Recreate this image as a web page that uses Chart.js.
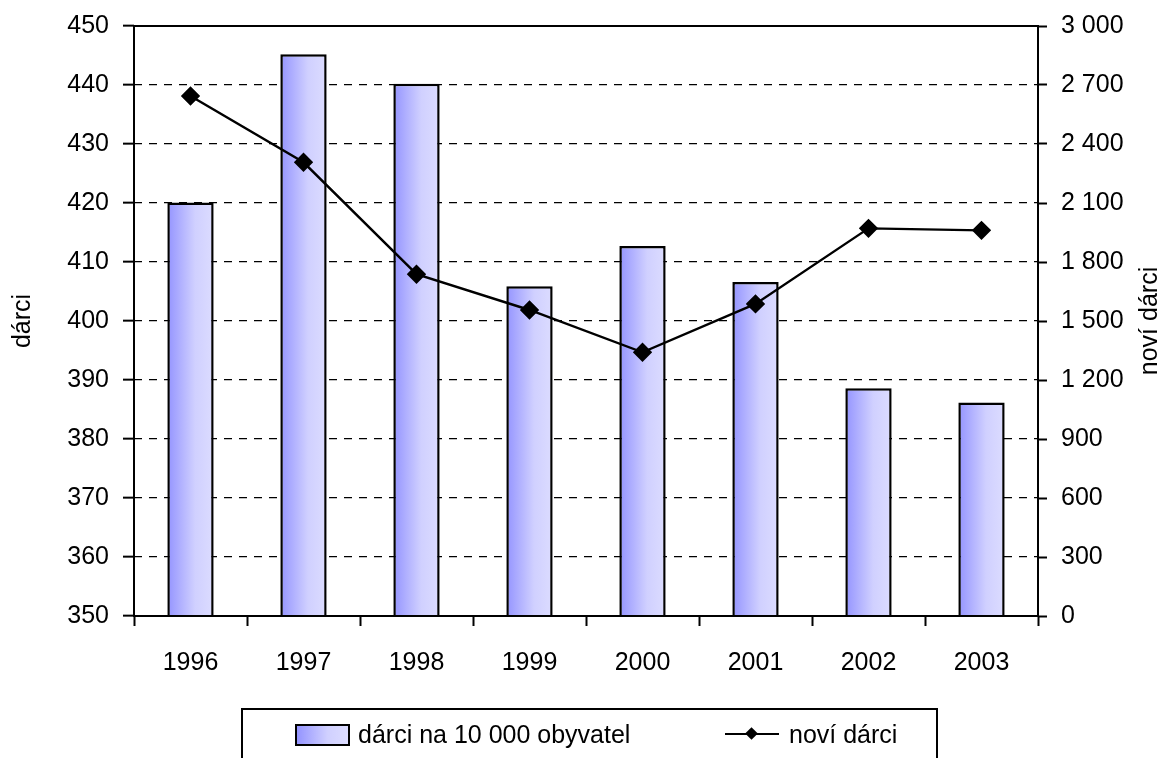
<!DOCTYPE html>
<html lang="cs">
<head>
  <meta charset="UTF-8">
  <title>Dárci krve 1996–2003</title>
  <script src="https://cdn.jsdelivr.net/npm/chart.js"></script>
  <style>
    body { margin: 0; background: #fff; }
    #wrap { position: relative; width: 1167px; height: 758px; overflow: hidden; }
    #legenda {
      position: absolute; left: 241px; top: 708px; width: 697px; height: 70px;
      border: 2px solid #000; box-sizing: border-box;
      font-family: 'Liberation Sans', Arial, sans-serif;
      font-size: 25px; color: #000;
    }
    #legenda span { position: absolute; top: 9px; line-height: 30px; white-space: nowrap; }
    .vzorek {
      position: absolute; left: 52px; top: 14px; width: 51px; height: 18px;
      border: 2px solid #000;
      background: linear-gradient(to right, #9494ff 0%, #d0d0ff 60%, #dcdcff 100%);
    }
    .cara { position: absolute; left: 482px; top: 23px; width: 54px; height: 2px; background: #000; }
    .kosoctverec { position: absolute; left: 504px; top: 19px; width: 9px; height: 9px; background: #000; transform: rotate(45deg); }
  </style>
</head>
<body>
  <div id="wrap">
    <canvas id="graf"></canvas>
    <div id="legenda">
      <div class="vzorek"></div>
      <span style="left:115px">dárci na 10 000 obyvatel</span>
      <div class="cara"></div>
      <div class="kosoctverec"></div>
      <span style="left:546px">noví dárci</span>
    </div>
  </div>

  <script>
    const roky = ['1996', '1997', '1998', '1999', '2000', '2001', '2002', '2003'];
    const darciNa10000 = [420.1, 445.2, 440.2, 405.9, 412.7, 406.6, 388.6, 386.2];
    const noviDarci = [2644, 2307, 1738, 1556, 1341, 1587, 1971, 1961];

    const pismo = "'Liberation Sans', Arial, sans-serif";

    function mezery(v) {
      return v.toString().replace(/\B(?=(\d{3})+(?!\d))/g, ' ');
    }

    // přechod na sloupcích zleva doprava
    function prechod(c) {
      const chart = c.chart;
      if (!chart.chartArea) return '#b0b0ff';
      const x = chart.scales.x.getPixelForValue(c.dataIndex);
      const w = chart.chartArea.width / roky.length * 0.41;
      const g = chart.ctx.createLinearGradient(x - w / 2, 0, x + w / 2, 0);
      g.addColorStop(0, '#9494ff');
      g.addColorStop(0.6, '#d0d0ff');
      g.addColorStop(1, '#dcdcff');
      return g;
    }

    // rámeček kolem plochy a popisky os
    const ramecek = {
      id: 'ramecek',
      afterDraw(chart) {
        const { ctx, chartArea: a } = chart;
        const stred = (a.top + a.bottom) / 2;
        ctx.save();
        ctx.strokeStyle = '#000';
        ctx.lineWidth = 2;
        ctx.strokeRect(a.left, a.top, a.right - a.left, a.bottom - a.top);
        ctx.fillStyle = '#000';
        ctx.font = '25px ' + pismo;
        ctx.textAlign = 'center';
        ctx.textBaseline = 'middle';
        ctx.translate(23, stred);
        ctx.rotate(-Math.PI / 2);
        ctx.fillText('dárci', 0, 0);
        ctx.restore();
        ctx.save();
        ctx.fillStyle = '#000';
        ctx.font = '25px ' + pismo;
        ctx.textAlign = 'center';
        ctx.textBaseline = 'middle';
        ctx.translate(1150, stred);
        ctx.rotate(-Math.PI / 2);
        ctx.fillText('noví dárci', 0, 0);
        ctx.restore();
      }
    };

    const ctx = document.getElementById('graf').getContext('2d');
    const graf = new Chart(ctx, {
      type: 'bar',
      data: {
        labels: roky,
        datasets: [{
          type: 'line',
          label: 'noví dárci',
          data: noviDarci,
          yAxisID: 'y2',
          borderColor: '#000',
          backgroundColor: '#000',
          borderWidth: 2.4,
          pointStyle: 'rectRot',
          pointRadius: 8,
          pointHoverRadius: 8,
          tension: 0,
          order: 0
        }, {
          label: 'dárci na 10 000 obyvatel',
          data: darciNa10000,
          yAxisID: 'y',
          backgroundColor: prechod,
          borderColor: '#000',
          borderWidth: 2.5,
          borderSkipped: false,
          categoryPercentage: 1,
          barPercentage: 0.41,
          order: 1
        }]
      },
      options: {
        responsive: true,
        maintainAspectRatio: false,
        animation: false,
        layout: { padding: { top: 26, bottom: 72, left: 0, right: 0 } },
        plugins: {
          legend: { display: false },
          tooltip: { enabled: false }
        },
        scales: {
          x: {
            afterFit(s) { s.height = 70; },
            grid: { display: true, drawOnChartArea: false, offset: true, tickLength: 10, tickWidth: 2, tickColor: '#000' },
            border: { display: false },
            ticks: { color: '#000', font: { family: pismo, size: 25 }, padding: 22 }
          },
          y: {
            position: 'left',
            min: 350,
            max: 450,
            afterFit(s) { s.width = 134; s.paddingTop = 10; s.paddingBottom = 10; },
            grid: { color: '#000', lineWidth: 1.3, tickLength: 11, tickWidth: 2, tickColor: '#000', tickBorderDash: [] },
            border: { display: false, dash: [8, 7] },
            ticks: { stepSize: 10, color: '#000', font: { family: pismo, size: 25 }, padding: 14 }
          },
          y2: {
            position: 'right',
            min: 0,
            max: 3000,
            afterFit(s) { s.width = 129; s.paddingTop = 10; s.paddingBottom = 10; },
            grid: { drawOnChartArea: false, tickLength: 9, tickWidth: 2, tickColor: '#000' },
            border: { display: false },
            ticks: { stepSize: 300, color: '#000', font: { family: pismo, size: 25 }, padding: 14, callback: v => mezery(v) }
          }
        }
      },
      plugins: [ramecek]
    });
  </script>
</body>
</html>
